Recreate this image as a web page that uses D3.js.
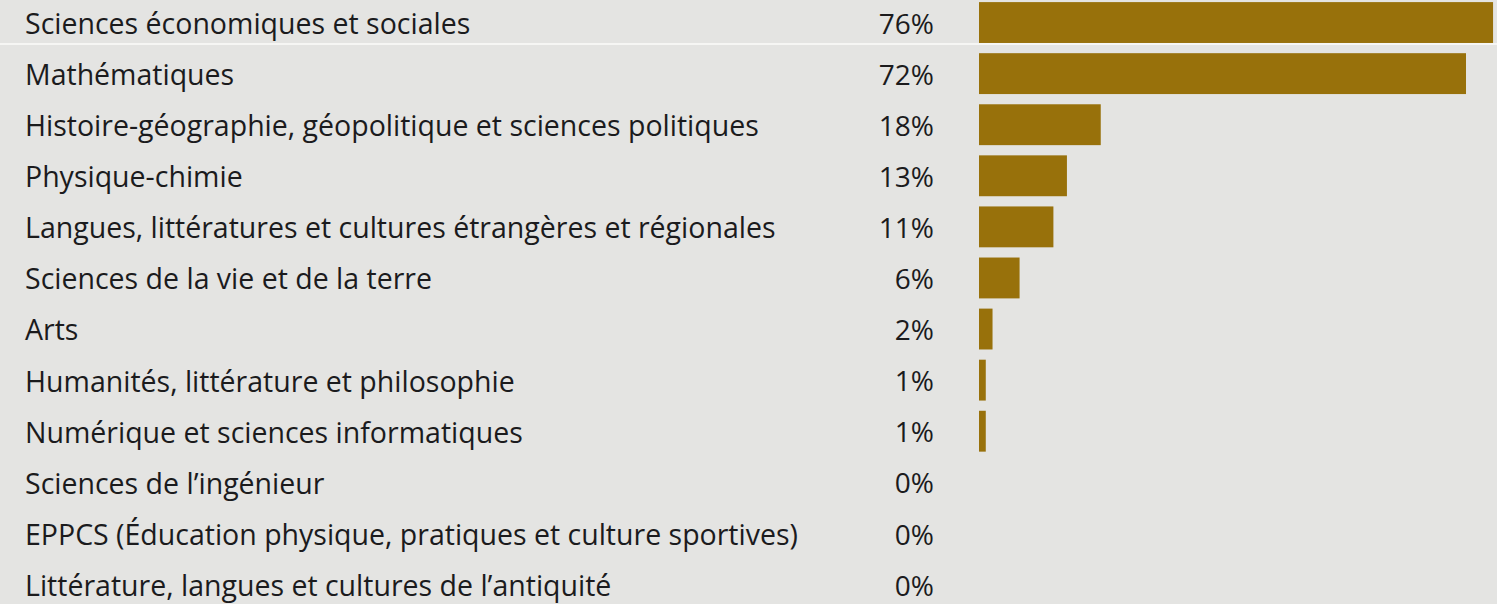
<!DOCTYPE html>
<html lang="fr">
<head>
    <meta charset="UTF-8">
    <title>Spécialités</title>
    <script src="https://cdn.jsdelivr.net/npm/d3@7/dist/d3.min.js"></script>
    <style>
        body { margin: 0; background: #e4e4e2; }
    </style>
</head>
<body>
    <svg width="1497" height="604" id="mainsvg"></svg>
    <script>
        const categories = [
            "Sciences économiques et sociales",
            "Mathématiques",
            "Histoire-géographie, géopolitique et sciences politiques",
            "Physique-chimie",
            "Langues, littératures et cultures étrangères et régionales",
            "Sciences de la vie et de la terre",
            "Arts",
            "Humanités, littérature et philosophie",
            "Numérique et sciences informatiques",
            "Sciences de l’ingénieur",
            "EPPCS (Éducation physique, pratiques et culture sportives)",
            "Littérature, langues et cultures de l’antiquité"
        ]
        const values = [76, 72, 18, 13, 11, 6, 2, 1, 1, 0, 0, 0]
        const valueLabels = ["76%", "72%", "18%", "13%", "11%", "6%", "2%", "1%", "1%", "0%", "0%", "0%"]

        const data = categories.map((c, i) => ({name: c, value: values[i], label: valueLabels[i]}))

        const svg = d3.select('#mainsvg')
        const width = +svg.attr('width')
        const height = +svg.attr('height')

        // bars start at x=979, labels on the left, percent column just before bars
        const barLeft = 979
        const x = d3.scaleLinear().domain([0, 72]).range([0, 487])
        const y = d3.scaleBand()
            .domain(categories)
            .range([-3, 610])
            .paddingInner(0.2)
            .paddingOuter(0.1)

        svg.append('rect').attr('width', width).attr('height', height).attr('fill', '#e4e4e2')

        // light crease between first and second row (as on the printed sheet)
        const crease = (y(categories[0]) + y.bandwidth() + y(categories[1])) / 2 - 4
        svg.append('line')
            .attr('x1', 0).attr('x2', width)
            .attr('y1', crease).attr('y2', crease)
            .attr('stroke', '#f6f6f4').attr('stroke-width', 2)

        const rows = svg.append('g').selectAll('g').data(data).join('g')
            .attr('transform', d => `translate(0, ${y(d.name)})`)

        rows.append('rect')
            .attr('x', barLeft)
            .attr('width', d => x(d.value))
            .attr('height', y.bandwidth())
            .attr('fill', '#98710b')

        rows.append('text')
            .text(d => d.name)
            .attr('x', 25)
            .attr('y', y.bandwidth() / 2)
            .attr('dy', '0.4em')
            .attr('font-family', '"Open Sans", sans-serif')
            .attr('font-size', 28.5)
            .attr('fill', '#1b1b1d')

        rows.append('text')
            .text(d => d.label)
            .attr('x', 934)
            .attr('y', y.bandwidth() / 2)
            .attr('dy', '0.4em')
            .attr('text-anchor', 'end')
            .attr('font-family', '"Open Sans", sans-serif')
            .attr('font-size', 28)
            .attr('fill', '#1b1b1d')
    </script>
</body>
</html>
